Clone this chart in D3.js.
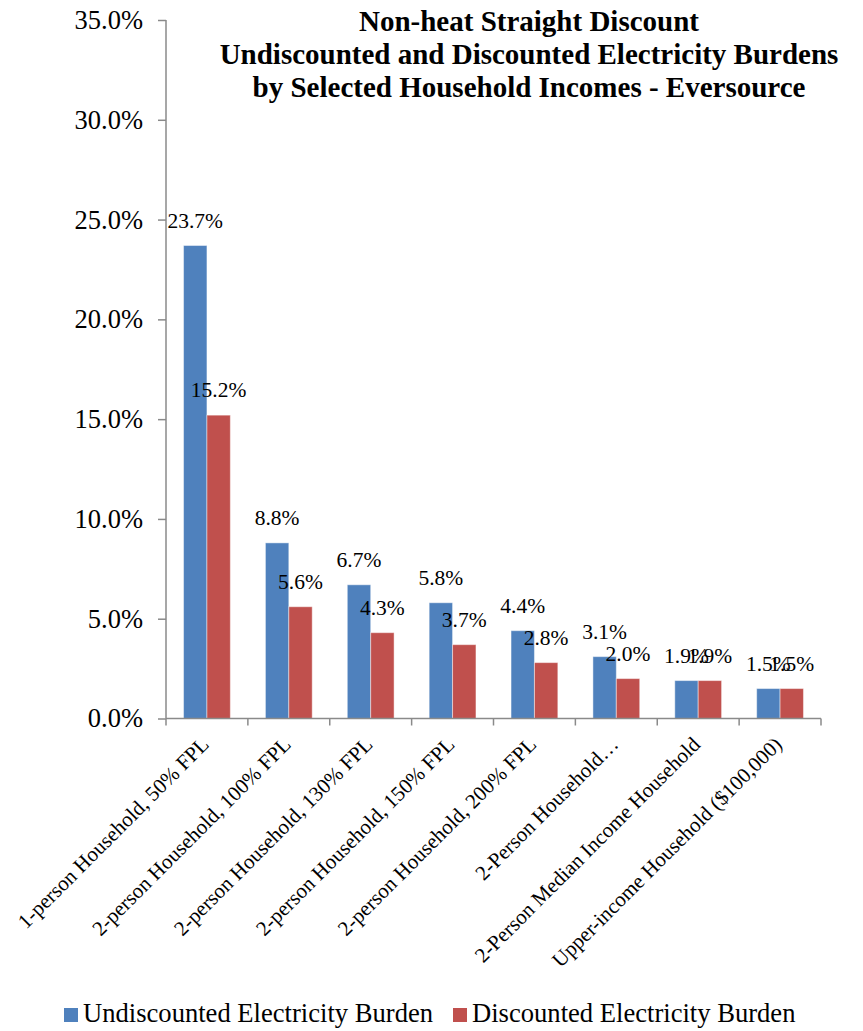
<!DOCTYPE html>
<html>
<head>
<meta charset="utf-8">
<script src="https://cdn.jsdelivr.net/npm/d3@7"></script>
<style>
  html, body { margin: 0; padding: 0; background: #fff; }
  svg { display: block; font-family: "Liberation Serif", "Times New Roman", serif; }
</style>
</head>
<body>
<svg id="chart" width="863" height="1031"></svg>
<script>
// Household types shown along the x axis
const categories = [
  "1-person Household, 50% FPL",
  "2-person Household, 100% FPL",
  "2-person Household, 130% FPL",
  "2-person Household, 150% FPL",
  "2-person Household, 200% FPL",
  "2-Person Household…",
  "2-Person Median Income Household",
  "Upper-income Household ($100,000)"
];
// Electricity burden, percent of household income
const undiscounted = [23.7, 8.8, 6.7, 5.8, 4.4, 3.1, 1.9, 1.5];
const discounted   = [15.2, 5.6, 4.3, 3.7, 2.8, 2.0, 1.9, 1.5];
const seriesNames = ["Undiscounted Electricity Burden", "Discounted Electricity Burden"];
const seriesColors = ["#4F81BD", "#C0504D"];
const yTicks = [0, 5, 10, 15, 20, 25, 30, 35];
const titleLines = [
  "Non-heat Straight Discount",
  "Undiscounted and Discounted Electricity Burdens",
  "by Selected Household Incomes - Eversource"
];

const svg = d3.select("#chart");
const axisColor = "#8a8a8a";

const x = d3.scaleBand().domain(categories).range([166, 821]).paddingInner(0).paddingOuter(0);
// Two bars per group with a 150% gap width
const barW = x.bandwidth() / 3.5;
const xs = d3.scaleBand().domain(seriesNames).range([barW * 0.75, barW * 2.75]);
const y = d3.scaleLinear().domain([0, 35]).range([718.5, 20]);

const rows = categories.map((c, i) => ({ c, vals: [undiscounted[i], discounted[i]] }));

// Bars
const groups = svg.append("g").selectAll("g").data(rows).join("g")
  .attr("transform", d => `translate(${x(d.c)},0)`);
groups.selectAll("rect").data(d => d.vals.map((v, k) => ({ v, k })))
  .join("rect")
  .attr("x", d => xs(seriesNames[d.k]))
  .attr("y", d => y(d.v))
  .attr("width", xs.bandwidth())
  .attr("height", d => y(0) - y(d.v))
  .attr("fill", d => seriesColors[d.k])
  .attr("stroke", "rgba(255,255,255,0.45)")
  .attr("stroke-width", 1);

// Y axis
const yAxis = d3.axisLeft(y).tickValues(yTicks).tickSize(8).tickPadding(15)
  .tickFormat(d => d.toFixed(1) + "%");
const yg = svg.append("g").attr("transform", "translate(166,0)").call(yAxis);
yg.select(".domain").attr("stroke", axisColor).attr("stroke-width", 1.5)
  .attr("d", `M0,${y(35)}V${y(0)}`);
yg.selectAll(".tick line").attr("stroke", axisColor).attr("stroke-width", 1.5);
yg.selectAll(".tick text").attr("font-family", "Liberation Serif").attr("font-size", 26.5)
  .attr("fill", "#000");

// X axis: baseline and boundary ticks
const xg = svg.append("g");
xg.append("line").attr("x1", 166).attr("x2", 821).attr("y1", y(0)).attr("y2", y(0))
  .attr("stroke", axisColor).attr("stroke-width", 1.5);
const bounds = categories.map(c => x(c)).concat([x.range()[1]]);
xg.selectAll("line.tk").data(bounds).join("line").attr("class", "tk")
  .attr("x1", d => d).attr("x2", d => d).attr("y1", y(0)).attr("y2", y(0) + 7)
  .attr("stroke", axisColor).attr("stroke-width", 1.5);

// Rotated category labels
xg.selectAll("text").data(categories).join("text")
  .attr("transform", d => `translate(${x(d) + x.bandwidth() / 2 - 2},${y(0) + 22}) rotate(-45)`)
  .attr("text-anchor", "end")
  .attr("dy", "0.35em")
  .attr("font-size", 21)
  .attr("fill", "#000")
  .text(d => d);

// Value labels above each bar
groups.selectAll("text").data(d => d.vals.map((v, k) => ({ v, k })))
  .join("text")
  .attr("x", d => xs(seriesNames[d.k]) + xs.bandwidth() / 2)
  .attr("y", d => y(d.v) - 18)
  .attr("text-anchor", "middle")
  .attr("font-size", 21.5)
  .attr("fill", "#000")
  .text(d => d.v.toFixed(1) + "%");

// Title
svg.append("text").attr("text-anchor", "middle").attr("font-weight", "bold")
  .attr("font-size", 29).attr("fill", "#000")
  .selectAll("tspan").data(titleLines).join("tspan")
  .attr("x", 529).attr("y", (d, i) => 31 + i * 33)
  .text(d => d);

// Legend
const legendX = [64, 453];
const lg = svg.append("g").selectAll("g").data(seriesNames).join("g")
  .attr("transform", (d, i) => `translate(${legendX[i]},1008)`);
lg.append("rect").attr("width", 14).attr("height", 14).attr("fill", (d, i) => seriesColors[i]);
lg.append("text").attr("x", 19).attr("y", 14).attr("font-size", 26.6).attr("fill", "#000")
  .text(d => d);
</script>
</body>
</html>
